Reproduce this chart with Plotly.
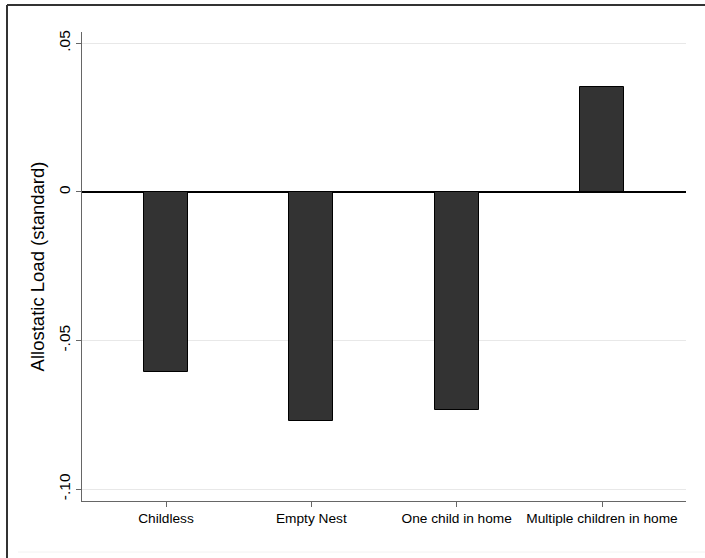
import plotly.graph_objects as go

categories = ["Childless", "Empty Nest", "One child in home", "Multiple children in home"]
values = [-0.0607, -0.0770, -0.0733, 0.0353]
tick_vals = [0.05, 0.0, -0.05, -0.10]
tick_text = [".05", "0", "-.05", "-.10"]
y_title = "Allostatic Load (standard)"

W, H = 705, 558
L, R, T, B = 82, 19, 32, 57
pw, ph = W - L - R, H - T - B

def px_x(p):
    return (p - L) / pw

def px_y(p):
    return (H - B - p) / ph

fig = go.Figure()
fig.add_trace(go.Bar(
    x=list(range(len(categories))), y=values,
    width=0.303,
    marker=dict(color="#333333", line=dict(color="#000000", width=1)),
    showlegend=False,
))

fig.update_layout(
    width=W, height=H,
    margin=dict(l=L, r=R, t=T, b=B),
    paper_bgcolor="white", plot_bgcolor="white",
    font=dict(family="Liberation Sans, Arial, sans-serif", color="black"),
    xaxis=dict(
        range=[-0.578, 3.578],
        tickmode="array", tickvals=list(range(len(categories))), ticktext=categories,
        ticks="outside", ticklen=5, tickcolor="#666666", tickwidth=1,
        showline=True, linecolor="#666666", linewidth=1,
        showgrid=False, zeroline=False,
        tickfont=dict(size=13.7, color="black"),
    ),
    yaxis=dict(
        range=[-0.104, 0.0538],
        tickmode="array", tickvals=tick_vals, ticktext=tick_text,
        tickangle=-90,
        ticks="outside", ticklen=5, tickcolor="#666666", tickwidth=1,
        showline=True, linecolor="#666666", linewidth=1,
        showgrid=True, gridcolor="#e8e8e8", gridwidth=1,
        zeroline=True, zerolinecolor="#000000", zerolinewidth=1.5,
        tickfont=dict(size=15.5, color="black"),
        title=dict(text=y_title, font=dict(size=18.5, color="black"), standoff=6),
    ),
    bargap=0,
)

# outer frame (as in the reference image: top and left visible, faint bottom)
fig.add_shape(type="line", xref="paper", yref="paper",
              x0=px_x(7), x1=px_x(706), y0=px_y(5), y1=px_y(5),
              line=dict(color="#333333", width=2))
fig.add_shape(type="line", xref="paper", yref="paper",
              x0=px_x(7), x1=px_x(7), y0=px_y(5), y1=px_y(559),
              line=dict(color="#333333", width=2))
fig.add_shape(type="line", xref="paper", yref="paper",
              x0=px_x(18), x1=px_x(706), y0=px_y(552), y1=px_y(552),
              line=dict(color="#f2f2f2", width=1))

fig.write_html(
    "out.html",
    config={"displayModeBar": False},
    post_script="document.body.style.margin='0';document.body.style.overflow='hidden';",
)
